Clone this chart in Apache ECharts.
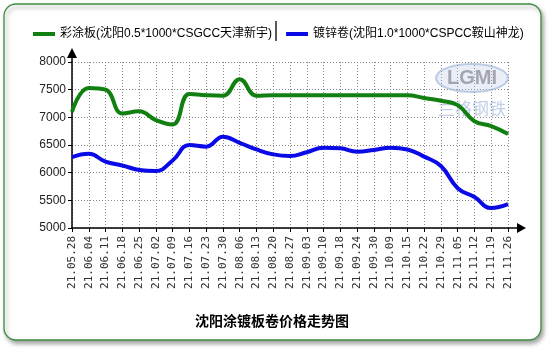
<!DOCTYPE html>
<html>
<head>
<meta charset="utf-8">
<script src="https://cdn.jsdelivr.net/npm/echarts@6/dist/echarts.min.js"></script>
<style>
html,body{margin:0;padding:0;background:#fff;}
#c{width:551px;height:351px;}
</style>
</head>
<body>
<div id="c"></div>
<script>
var categories = ['21.05.28','21.06.04','21.06.11','21.06.18','21.06.25','21.07.02','21.07.09','21.07.16','21.07.23','21.07.30','21.08.06','21.08.13','21.08.20','21.08.27','21.09.03','21.09.10','21.09.18','21.09.24','21.09.30','21.10.09','21.10.15','21.10.22','21.10.29','21.11.05','21.11.12','21.11.19','21.11.26'];
var seriesNames = ['彩涂板(沈阳0.5*1000*CSGCC天津新宇)', '镀锌卷(沈阳1.0*1000*CSPCC鞍山神龙)'];
var colorCoated = [7100,7530,7500,7070,7110,6950,6870,7420,7400,7390,7690,7390,7400,7400,7400,7400,7400,7400,7400,7400,7400,7350,7300,7220,6930,6840,6700];
var galvanized = [6280,6340,6200,6130,6050,6030,6220,6500,6470,6650,6540,6420,6330,6300,6370,6450,6440,6380,6410,6450,6420,6290,6120,5720,5560,5360,5430];
var yMin = 5000, yMax = 8000, yStep = 500;
var chartTitle = '沈阳涂镀板卷价格走势图';
var watermarkLogo = 'LGMI';
var watermarkText = '兰格钢铁';

var chart = echarts.init(document.getElementById('c'), null, {renderer: 'canvas'});
var baseFont = 'Arial, "Liberation Sans", "Noto Sans CJK SC", sans-serif';

var option = {
  animation: false,
  backgroundColor: '#ffffff',
  title: {
    text: chartTitle,
    left: 190,
    top: 309,
    textStyle: {fontSize: 14, fontWeight: 'bold', color: '#000', fontFamily: '"Noto Sans CJK SC", sans-serif'}
  },
  legend: {
    left: 28,
    top: 23,
    itemWidth: 22,
    itemHeight: 4,
    itemGap: 14,
    icon: 'rect',
    textStyle: {fontSize: 12, color: '#000', fontFamily: baseFont},
    data: seriesNames
  },
  grid: {left: 72, top: 62, right: 43, bottom: 123, containLabel: false},
  xAxis: {
    type: 'category',
    data: categories,
    boundaryGap: false,
    axisLine: {show: true, lineStyle: {color: '#000', width: 1.5}},
    axisTick: {show: true, length: 4, lineStyle: {color: '#000'}},
    axisLabel: {rotate: 90, interval: 0, margin: 8, fontSize: 11, color: '#333', fontFamily: '"DejaVu Sans Mono", monospace'},
    splitLine: {show: true, interval: 0, lineStyle: {type: [1, 2], color: '#8a8a8a', width: 1}}
  },
  yAxis: {
    type: 'value',
    min: yMin,
    max: yMax,
    interval: yStep,
    axisLine: {show: true, lineStyle: {color: '#000', width: 1.5}},
    axisTick: {show: true, length: 4, lineStyle: {color: '#000'}},
    axisLabel: {fontSize: 12, color: '#222', margin: 6, fontFamily: baseFont,
      formatter: function (v) { return String(v); }},
    splitLine: {show: true, lineStyle: {type: [1, 2], color: '#8a8a8a', width: 1}}
  },
  series: [
    {
      name: seriesNames[0], type: 'line', data: colorCoated, smooth: 0.45,
      showSymbol: false, symbol: 'none', z: 3,
      itemStyle: {color: '#118011'},
      lineStyle: {color: '#118011', width: 4}
    },
    {
      name: seriesNames[1], type: 'line', data: galvanized, smooth: 0.45,
      showSymbol: false, symbol: 'none', z: 3,
      itemStyle: {color: '#0a0ae6'},
      lineStyle: {color: '#0a0ae6', width: 4}
    }
  ]
};
chart.setOption(option);

var origin = chart.convertToPixel({gridIndex: 0}, [0, yMin]);
var endX = chart.convertToPixel({gridIndex: 0}, [categories.length - 1, yMin]);
var topY = chart.convertToPixel({gridIndex: 0}, [0, yMax]);
var ox = origin[0], oy = origin[1], ex = endX[0], ty = topY[1];

chart.setOption({
  graphic: [
    {
      type: 'rect', z: -10, silent: true,
      shape: {x: 4, y: 4, width: 537, height: 336, r: 12},
      style: {fill: '#ffffff', stroke: '#3f8f3f', lineWidth: 1.3,
        shadowBlur: 4, shadowOffsetX: 2, shadowOffsetY: 3, shadowColor: 'rgba(0,0,0,0.35)'}
    },
    {
      type: 'line', z: 10, silent: true,
      shape: {x1: ex, y1: oy, x2: ex + 12, y2: oy},
      style: {stroke: '#000', lineWidth: 1.5}
    },
    {
      type: 'polygon', z: 10, silent: true,
      shape: {points: [[ex + 9, oy - 5], [ex + 18, oy], [ex + 9, oy + 5]]},
      style: {fill: '#000'}
    },
    {
      type: 'line', z: 10, silent: true,
      shape: {x1: ox, y1: ty, x2: ox, y2: ty - 6},
      style: {stroke: '#000', lineWidth: 1.5}
    },
    {
      type: 'polygon', z: 10, silent: true,
      shape: {points: [[ox - 5, ty - 4], [ox, ty - 14], [ox + 5, ty - 4]]},
      style: {fill: '#000'}
    },
    {
      type: 'line', z: 10, silent: true,
      shape: {x1: 276, y1: 21, x2: 276, y2: 41},
      style: {stroke: '#222', lineWidth: 1.5}
    },
    {
      type: 'ellipse', z: 1, silent: true,
      shape: {cx: 472, cy: 78, rx: 36, ry: 14},
      style: {fill: 'rgba(170,190,225,0.25)', stroke: 'rgba(150,175,215,0.6)', lineWidth: 2}
    },
    {
      type: 'text', z: 1, silent: true,
      style: {x: 472, y: 78, text: watermarkLogo, align: 'center', verticalAlign: 'middle',
        fontSize: 20, fontWeight: 'bold', fill: 'rgba(140,140,150,0.75)', fontFamily: 'Arial, sans-serif'}
    },
    {
      type: 'text', z: 1, silent: true,
      style: {x: 472, y: 109, text: watermarkText, align: 'center', verticalAlign: 'middle',
        fontSize: 17, fill: 'rgba(150,175,215,0.6)', fontFamily: '"Noto Sans CJK SC", sans-serif'}
    }
  ]
});
</script>
</body>
</html>
